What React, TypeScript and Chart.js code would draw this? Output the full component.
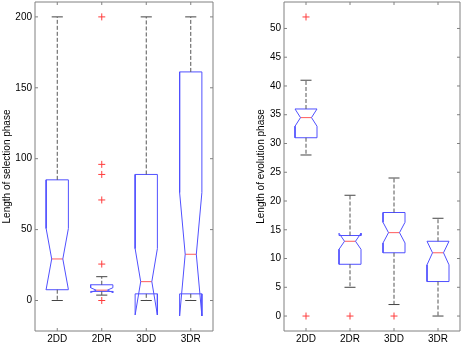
import React, { useEffect, useRef } from 'react';
import { Chart, registerables } from 'chart.js';

Chart.register(...registerables);

// ---------- data ----------
const categories = ['2DD', '2DR', '3DD', '3DR'];
const categoryPositions = [1, 2, 3, 4];

// Left panel: Length of selection phase
const selWhiskerLow = [0, 3.8, 0, 0];
const selQ1 = [7.6, 6.4, 4.7, 4.7];
const selMedian = [29.3, 7.3, 13.3, 32.6];
const selQ3 = [85.1, 11.1, 88.9, 161.2];
const selWhiskerHigh = [200, 16.8, 200, 200];
const selNotchLow = [7.8, 5.6, -10.2, -10.9];
const selNotchHigh = [50.8, 9.0, 36.6, 76.1];
const selOutliers = [[], [200, 96, 88.9, 70.9, 25.7, 0], [], []];
const selTicks = [0, 50, 100, 150, 200];

// Right panel: Length of evolution phase
const evoWhiskerLow = [28, 5, 2, 0];
const evoQ1 = [31, 9, 11, 6];
const evoMedian = [34.5, 13, 14.5, 11];
const evoQ3 = [36, 14, 18, 13];
const evoWhiskerHigh = [41, 21, 24, 17];
const evoNotchLow = [33, 11.6, 12.7, 8.9];
const evoNotchHigh = [36, 14.4, 16.3, 13];
const evoOutliers = [[52, 0], [0], [0], []];
const evoTicks = [0, 5, 10, 15, 20, 25, 30, 35, 40, 45, 50];

// ---------- styles ----------
const BOX_HALF = 0.25;
const NOTCH_FRAC = 0.5;
const CAP_HALF = 0.125;
const boxColor = '#5050ff';
const medianColor = '#ff5a5a';
const whiskerColor = '#555555';
const capColor = '#444444';
const outlierColor = '#ff3c3c';
const frameColor = '#808080';
const FONT = { family: '"Liberation Sans", Arial, sans-serif', size: 10 };

type Stats = {
  wl: number[]; q1: number[]; med: number[]; q3: number[]; wh: number[];
  nlo: number[]; nhi: number[]; out: number[][];
};

function seg(data: { x: number; y: number }[], color: string, dash: number[] = []) {
  return {
    type: 'scatter' as const,
    data,
    showLine: true,
    borderColor: color,
    backgroundColor: color,
    borderWidth: 1,
    borderDash: dash,
    pointRadius: 0,
    pointHoverRadius: 0,
    tension: 0,
    fill: false,
  };
}

function buildDatasets(s: Stats) {
  const ds: any[] = [];
  s.med.forEach((med, i) => {
    const c = categoryPositions[i];
    const L = c - BOX_HALF, R = c + BOX_HALF;
    const nL = c - BOX_HALF * NOTCH_FRAC, nR = c + BOX_HALF * NOTCH_FRAC;
    ds.push(seg([{ x: c, y: s.q3[i] }, { x: c, y: s.wh[i] }], whiskerColor, [4, 2]));
    ds.push(seg([{ x: c, y: s.q1[i] }, { x: c, y: s.wl[i] }], whiskerColor, [4, 2]));
    ds.push(seg([{ x: c - CAP_HALF, y: s.wh[i] }, { x: c + CAP_HALF, y: s.wh[i] }], capColor));
    ds.push(seg([{ x: c - CAP_HALF, y: s.wl[i] }, { x: c + CAP_HALF, y: s.wl[i] }], capColor));
    ds.push(seg([
      { x: L, y: s.q3[i] }, { x: L, y: s.nhi[i] }, { x: nL, y: med }, { x: L, y: s.nlo[i] },
      { x: L, y: s.q1[i] }, { x: R, y: s.q1[i] }, { x: R, y: s.nlo[i] }, { x: nR, y: med },
      { x: R, y: s.nhi[i] }, { x: R, y: s.q3[i] }, { x: L, y: s.q3[i] },
    ], boxColor));
    ds.push(seg([{ x: nL, y: med }, { x: nR, y: med }], medianColor));
  });
  const pts: { x: number; y: number }[] = [];
  s.out.forEach((arr, i) => arr.forEach((v) => pts.push({ x: categoryPositions[i], y: v })));
  ds.push({
    type: 'scatter',
    data: pts,
    showLine: false,
    pointStyle: 'cross',
    pointRadius: 3.5,
    pointHoverRadius: 3.5,
    borderColor: outlierColor,
    backgroundColor: outlierColor,
    borderWidth: 1,
  });
  return ds;
}

const framePlugin = {
  id: 'matlabFrame',
  afterDraw(chart: any) {
    const { ctx, chartArea: a, scales } = chart;
    const tl = 3;
    ctx.save();
    ctx.strokeStyle = frameColor;
    ctx.lineWidth = 1;
    ctx.beginPath();
    ctx.rect(a.left, a.top, a.right - a.left, a.bottom - a.top);
    scales.x.ticks.forEach((t: any) => {
      const px = scales.x.getPixelForValue(t.value);
      ctx.moveTo(px, a.bottom); ctx.lineTo(px, a.bottom - tl);
      ctx.moveTo(px, a.top); ctx.lineTo(px, a.top + tl);
    });
    scales.y.ticks.forEach((t: any) => {
      const py = scales.y.getPixelForValue(t.value);
      ctx.moveTo(a.left, py); ctx.lineTo(a.left + tl, py);
      ctx.moveTo(a.right, py); ctx.lineTo(a.right - tl, py);
    });
    ctx.stroke();
    ctx.restore();
  },
};

type PanelProps = {
  width: number; height: number; left: number;
  stats: Stats; yMin: number; yMax: number; yTicks: number[];
  yTitle: string; yAxisWidth: number; titlePad: number; rightPad: number;
};

function BoxPanel(p: PanelProps) {
  const ref = useRef<HTMLCanvasElement>(null);
  useEffect(() => {
    if (!ref.current) return;
    const chart = new Chart(ref.current, {
      type: 'scatter',
      data: { datasets: buildDatasets(p.stats) },
      plugins: [framePlugin],
      options: {
        animation: false,
        responsive: false,
        devicePixelRatio: 1,
        layout: { autoPadding: false, padding: { top: 2, right: p.rightPad, bottom: 0, left: 0 } },
        plugins: { legend: { display: false }, tooltip: { enabled: false } },
        scales: {
          x: {
            type: 'linear',
            min: 0.5,
            max: 4.5,
            grid: { display: false, drawTicks: false },
            border: { display: false },
            afterBuildTicks: (s: any) => { s.ticks = categoryPositions.map((v) => ({ value: v })); },
            afterFit: (s: any) => { s.height = 14; s.paddingLeft = 0; s.paddingRight = 0; },
            ticks: {
              autoSkip: false,
              maxRotation: 0,
              padding: 2,
              color: '#000',
              font: FONT,
              callback: (v: any) => categories[categoryPositions.indexOf(Number(v))] ?? '',
            },
          },
          y: {
            type: 'linear',
            min: p.yMin,
            max: p.yMax,
            grid: { display: false, drawTicks: false },
            border: { display: false },
            afterBuildTicks: (s: any) => { s.ticks = p.yTicks.map((v) => ({ value: v })); },
            afterFit: (s: any) => { s.width = p.yAxisWidth; s.paddingTop = 0; s.paddingBottom = 0; },
            ticks: { padding: 3, color: '#000', font: { ...FONT, lineHeight: 0.2 } },
            title: {
              display: true,
              text: p.yTitle,
              color: '#000',
              font: FONT,
              padding: { top: p.titlePad, bottom: 0 },
            },
          },
        },
      } as any,
    });
    return () => chart.destroy();
  }, []);
  return (
    <canvas
      ref={ref}
      width={p.width}
      height={p.height}
      style={{ position: 'absolute', left: p.left, top: 0, width: p.width, height: p.height }}
    />
  );
}

export default function App() {
  const sel: Stats = {
    wl: selWhiskerLow, q1: selQ1, med: selMedian, q3: selQ3, wh: selWhiskerHigh,
    nlo: selNotchLow, nhi: selNotchHigh, out: selOutliers,
  };
  const evo: Stats = {
    wl: evoWhiskerLow, q1: evoQ1, med: evoMedian, q3: evoQ3, wh: evoWhiskerHigh,
    nlo: evoNotchLow, nhi: evoNotchHigh, out: evoOutliers,
  };
  return (
    <div style={{ position: 'fixed', left: 0, top: 0, width: 461, height: 345, background: '#fff' }}>
      <BoxPanel width={230} height={345} left={0} stats={sel} yMin={-21.5} yMax={210.5}
        yTicks={selTicks} yTitle="Length of selection phase" yAxisWidth={35} titlePad={1} rightPad={17} />
      <BoxPanel width={231} height={345} left={230} stats={evo} yMin={-2.6} yMax={54.6}
        yTicks={evoTicks} yTitle="Length of evolution phase" yAxisWidth={54} titlePad={25} rightPad={1} />
    </div>
  );
}
